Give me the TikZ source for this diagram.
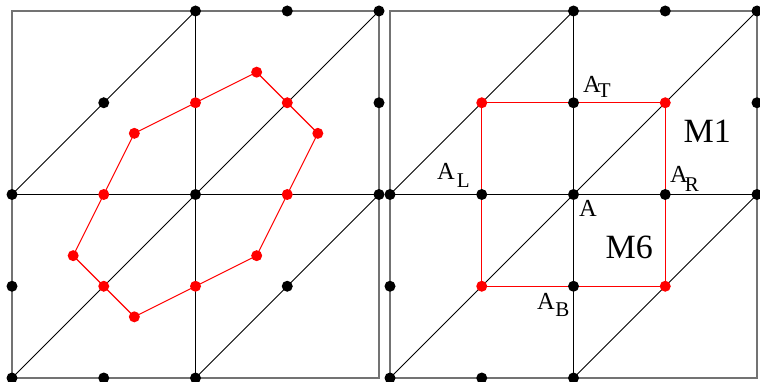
\documentclass[tikz,border=0pt]{standalone}
\usepackage{fontspec}
\setmainfont{Liberation Serif}
\newcommand{\labsub}[4]{A\kern#2pt\raisebox{-#3pt}{\fontsize{21}{21}\selectfont #1}#4}
\begin{document}
\begin{tikzpicture}[x=1pt,y=-1pt,
  frame/.style={draw=black!55, line width=1.4pt},
  gline/.style={draw=black, line width=1pt},
  rline/.style={draw=red, line width=1.1pt, line join=round},
  bdot/.style={circle, fill=black, draw=none, inner sep=0pt, minimum size=11pt},
  rdot/.style={circle, fill=red, draw=none, inner sep=0pt, minimum size=11pt},
  lab/.style={anchor=base west, inner sep=0pt, font=\fontsize{24.5}{26}\selectfont},
  big/.style={anchor=base west, inner sep=0pt, font=\fontsize{34}{36}\selectfont}]
\useasboundingbox (0,0) rectangle (760,382);

% ---------- left panel ----------
\begin{scope}[shift={(195.5,194.5)}, x=183.5pt, y=183.5pt]
  \foreach \i in {0,...,4}{\foreach \j in {0,...,4}{
    \coordinate (L\i\j) at ({(\i-2)/2},{(\j-2)/2});}}
  \coordinate (LC1) at (1/3,2/3);
  \coordinate (LC2) at (2/3,1/3);
  \coordinate (LC3) at (1/3,-1/3);
  \coordinate (LC4) at (-1/3,-2/3);
  \coordinate (LC5) at (-2/3,-1/3);
  \coordinate (LC6) at (-1/3,1/3);
  \draw[gline] (L02) -- (L42);
  \draw[gline] (L20) -- (L24);
  \draw[gline] (L02) -- (L24);
  \draw[gline] (L00) -- (L44);
  \draw[gline] (L20) -- (L42);
  \draw[frame] (L00) rectangle (L44);
  \draw[rline] (LC1) -- (L33) -- (LC2) -- (L32) -- (LC3) -- (L21) -- (LC4)
     -- (L11) -- (LC5) -- (L12) -- (LC6) -- (L23) -- cycle;
  \foreach \p in {24,34,44,13,43,02,22,42,01,31,00,10,20}
    \node[bdot] (Ld\p) at (L\p) {};
  \foreach \p in {C1,33,C2,32,C3,21,C4,11,C5,12,C6,23}
    \node[rdot] (Lr\p) at (L\p) {};
\end{scope}

% ---------- right panel ----------
\begin{scope}[shift={(573.5,194.5)}, x=183.5pt, y=183.5pt]
  \foreach \i in {0,...,4}{\foreach \j in {0,...,4}{
    \coordinate (R\i\j) at ({(\i-2)/2},{(\j-2)/2});}}
  \draw[gline] (R02) -- (R42);
  \draw[gline] (R20) -- (R24);
  \draw[gline] (R02) -- (R24);
  \draw[gline] (R00) -- (R44);
  \draw[gline] (R20) -- (R42);
  \draw[frame] (R00) rectangle (R44);
  \draw[rline] (R13) -- (R33) -- (R31) -- (R11) -- cycle;
  \foreach \p in {24,34,44,23,43,02,12,22,32,42,01,21,00,10,20}
    \node[bdot] (Rd\p) at (R\p) {};
  \foreach \p in {13,33,11,31}
    \node[rdot] (Rr\p) at (R\p) {};
\end{scope}

% ---------- labels ----------
\node[lab] (AT) at (583,93)  {\labsub{T}{-3}{4.5}{}};
\node[lab] (AR) at (670,183) {\labsub{R}{-3}{9}{}};
\node[lab] (AL) at (437,180) {\labsub{L}{2}{8}{}};
\node[lab] (AB) at (537,309) {\labsub{B}{0.4}{7.5}{}};
\node[lab] (A0) at (579,216) {A};
\node[big] (M1) at (683.5,143) {M1};
\node[big] (M6) at (605.5,258) {M6};
\end{tikzpicture}
\end{document}
